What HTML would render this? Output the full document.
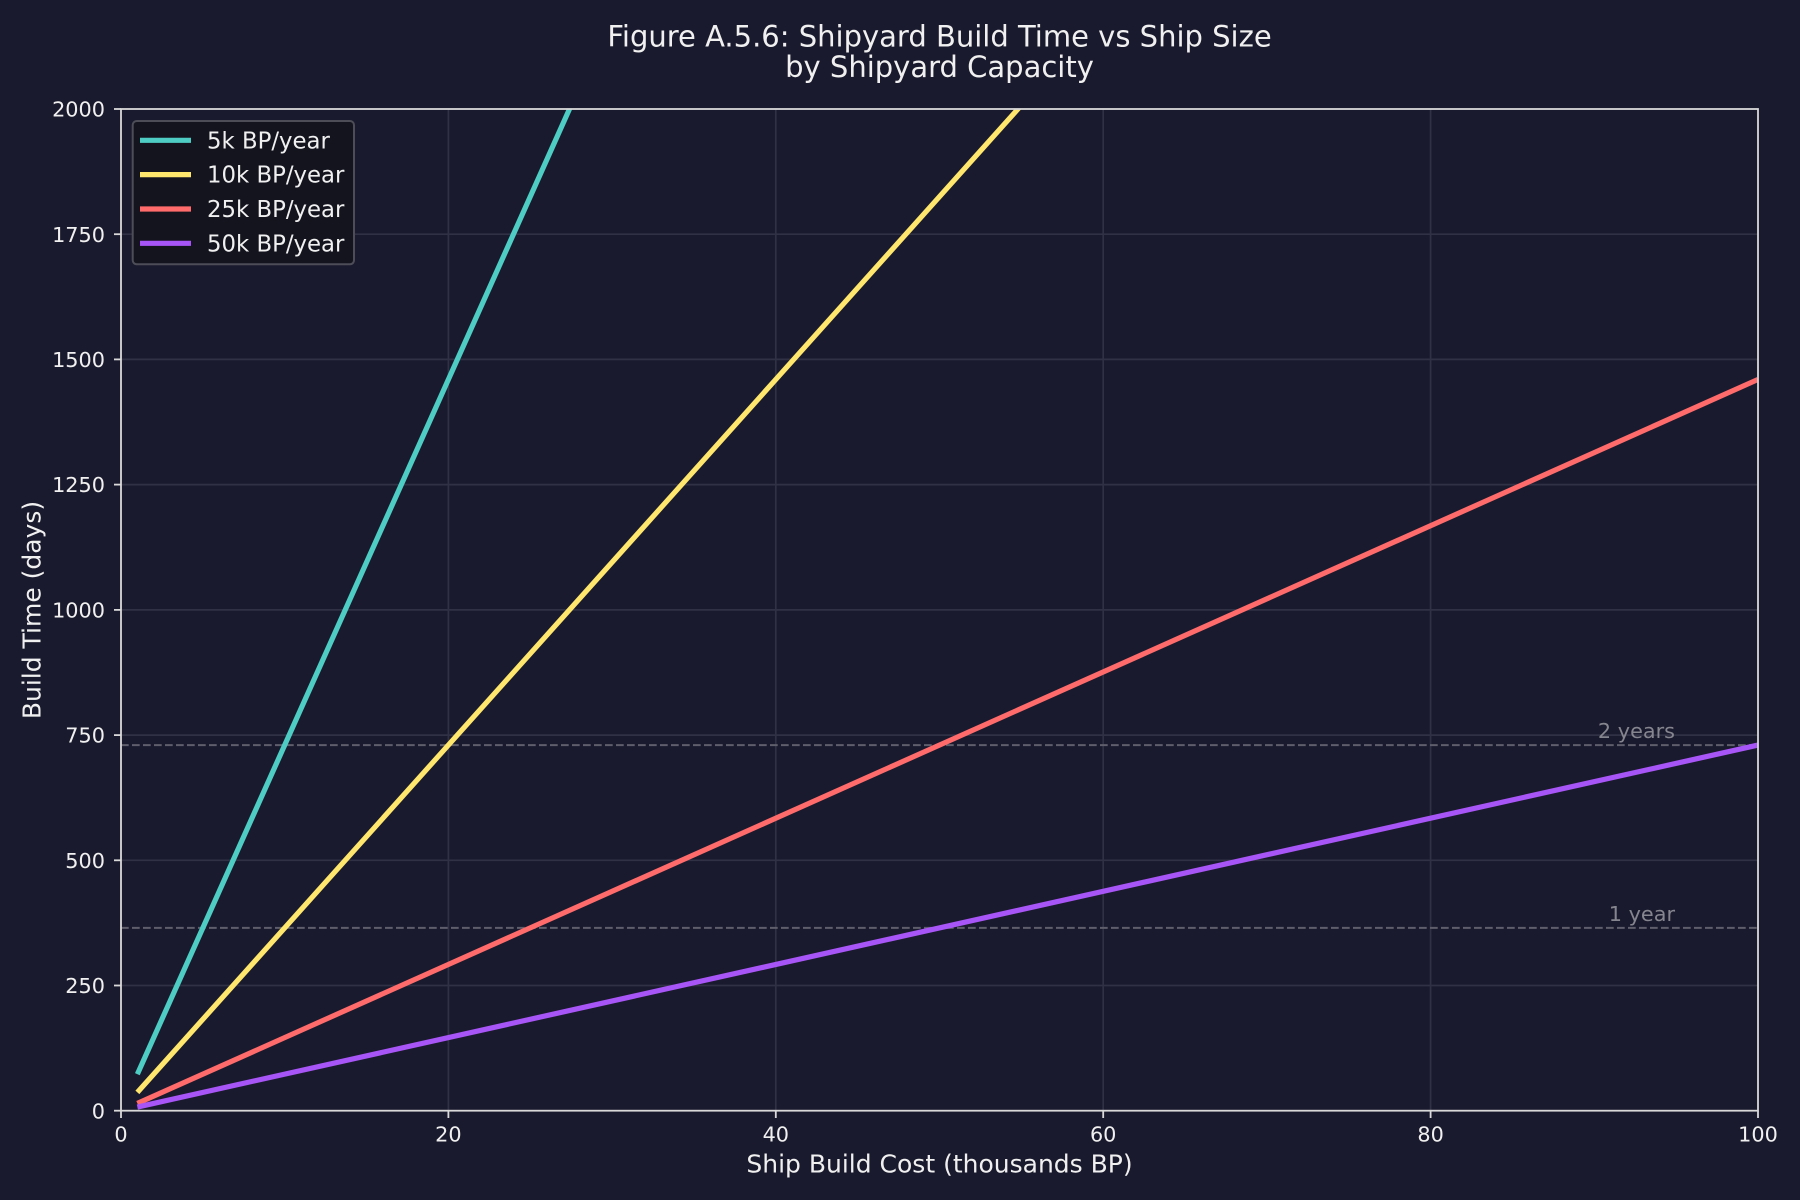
<!DOCTYPE html>
<html><head><meta charset="utf-8"><style>
html,body{margin:0;padding:0;background:#1a1a2e;}
svg{display:block;}
text{font-family:"DejaVu Sans","Liberation Sans",sans-serif;}
</style></head><body>
<svg width="1800" height="1200" viewBox="0 0 1800 1200" xmlns="http://www.w3.org/2000/svg">
<rect x="0" y="0" width="1800" height="1200" fill="#1a1a2e"/>
<defs><clipPath id="ax"><rect x="121" y="109" width="1637" height="1001.7"/></clipPath></defs>
<!-- grid -->
<g stroke="#313145" stroke-width="1.7">
<line x1="448.4" y1="109" x2="448.4" y2="1110.7"/>
<line x1="775.8" y1="109" x2="775.8" y2="1110.7"/>
<line x1="1103.2" y1="109" x2="1103.2" y2="1110.7"/>
<line x1="1430.6" y1="109" x2="1430.6" y2="1110.7"/>
<line x1="121" y1="985.5" x2="1758" y2="985.5"/>
<line x1="121" y1="860.3" x2="1758" y2="860.3"/>
<line x1="121" y1="735.1" x2="1758" y2="735.1"/>
<line x1="121" y1="609.9" x2="1758" y2="609.9"/>
<line x1="121" y1="484.6" x2="1758" y2="484.6"/>
<line x1="121" y1="359.4" x2="1758" y2="359.4"/>
<line x1="121" y1="234.2" x2="1758" y2="234.2"/>
</g>
<!-- reference lines -->
<g stroke="#5e5e6c" stroke-width="2" stroke-dasharray="7.7,3.3">
<line x1="121" y1="745.1" x2="1758" y2="745.1"/>
<line x1="121" y1="927.9" x2="1758" y2="927.9"/>
</g>
<text x="1675" y="738" fill="#85858f" font-size="20.8" text-anchor="end">2 years</text>
<text x="1675" y="921" fill="#85858f" font-size="20.8" text-anchor="end">1 year</text>
<!-- series -->
<g clip-path="url(#ax)" stroke-width="5.2" fill="none" stroke-linecap="butt">
<line x1="137.37" y1="1074.14" x2="1758" y2="-2545.5" stroke="#4ECDC4"/>
<line x1="137.37" y1="1092.42" x2="1758" y2="-717.5" stroke="#FFE66D"/>
<line x1="137.37" y1="1103.39" x2="1758" y2="379.46" stroke="#FF6B6B"/>
<line x1="137.37" y1="1107.04" x2="1758" y2="745.08" stroke="#A855F7"/>
</g>
<!-- spines -->
<rect x="121" y="109" width="1637" height="1001.7" fill="none" stroke="#d9d9d9" stroke-width="1.8"/>
<!-- ticks -->
<g stroke="#d9d9d9" stroke-width="1.8">
<line x1="121" y1="1110.7" x2="121" y2="1118"/>
<line x1="448.4" y1="1110.7" x2="448.4" y2="1118"/>
<line x1="775.8" y1="1110.7" x2="775.8" y2="1118"/>
<line x1="1103.2" y1="1110.7" x2="1103.2" y2="1118"/>
<line x1="1430.6" y1="1110.7" x2="1430.6" y2="1118"/>
<line x1="1758" y1="1110.7" x2="1758" y2="1118"/>
<line x1="114" y1="1110.7" x2="121" y2="1110.7"/>
<line x1="114" y1="985.5" x2="121" y2="985.5"/>
<line x1="114" y1="860.3" x2="121" y2="860.3"/>
<line x1="114" y1="735.1" x2="121" y2="735.1"/>
<line x1="114" y1="609.9" x2="121" y2="609.9"/>
<line x1="114" y1="484.6" x2="121" y2="484.6"/>
<line x1="114" y1="359.4" x2="121" y2="359.4"/>
<line x1="114" y1="234.2" x2="121" y2="234.2"/>
<line x1="114" y1="109" x2="121" y2="109"/>
</g>
<g fill="#f0f0f0" font-size="20.8" text-anchor="middle">
<text x="121" y="1141.7">0</text>
<text x="448.4" y="1141.7">20</text>
<text x="775.8" y="1141.7">40</text>
<text x="1103.2" y="1141.7">60</text>
<text x="1430.6" y="1141.7">80</text>
<text x="1758" y="1141.7">100</text>
</g>
<g fill="#f0f0f0" font-size="20.8" text-anchor="end">
<text x="105" y="1118.3">0</text>
<text x="105" y="993.1">250</text>
<text x="105" y="867.9">500</text>
<text x="105" y="742.7">750</text>
<text x="105" y="617.5">1000</text>
<text x="105" y="492.2">1250</text>
<text x="105" y="367">1500</text>
<text x="105" y="241.8">1750</text>
<text x="105" y="116.6">2000</text>
</g>
<!-- axis labels -->
<text x="939.5" y="1172.7" fill="#f0f0f0" font-size="25" text-anchor="middle">Ship Build Cost (thousands BP)</text>
<text transform="translate(40.7,610) rotate(-90)" fill="#f0f0f0" font-size="25" text-anchor="middle">Build Time (days)</text>
<!-- title -->
<text x="939.5" y="46.5" fill="#f0f0f0" font-size="29" text-anchor="middle">Figure A.5.6: Shipyard Build Time vs Ship Size</text>
<text x="939.5" y="77" fill="#f0f0f0" font-size="29" text-anchor="middle">by Shipyard Capacity</text>
<!-- legend -->
<rect x="132.7" y="121" width="221.3" height="143.3" rx="4" ry="4" fill="#14141f" stroke="#4d4d58" stroke-width="2"/>
<g stroke-width="5.2">
<line x1="140" y1="140.3" x2="191" y2="140.3" stroke="#4ECDC4"/>
<line x1="140" y1="174.6" x2="191" y2="174.6" stroke="#FFE66D"/>
<line x1="140" y1="209" x2="191" y2="209" stroke="#FF6B6B"/>
<line x1="140" y1="243.3" x2="191" y2="243.3" stroke="#A855F7"/>
</g>
<g fill="#f0f0f0" font-size="22.8">
<text x="207" y="148.4">5k BP/year</text>
<text x="207" y="182.7">10k BP/year</text>
<text x="207" y="217.1">25k BP/year</text>
<text x="207" y="251.4">50k BP/year</text>
</g>
</svg>
</body></html>
